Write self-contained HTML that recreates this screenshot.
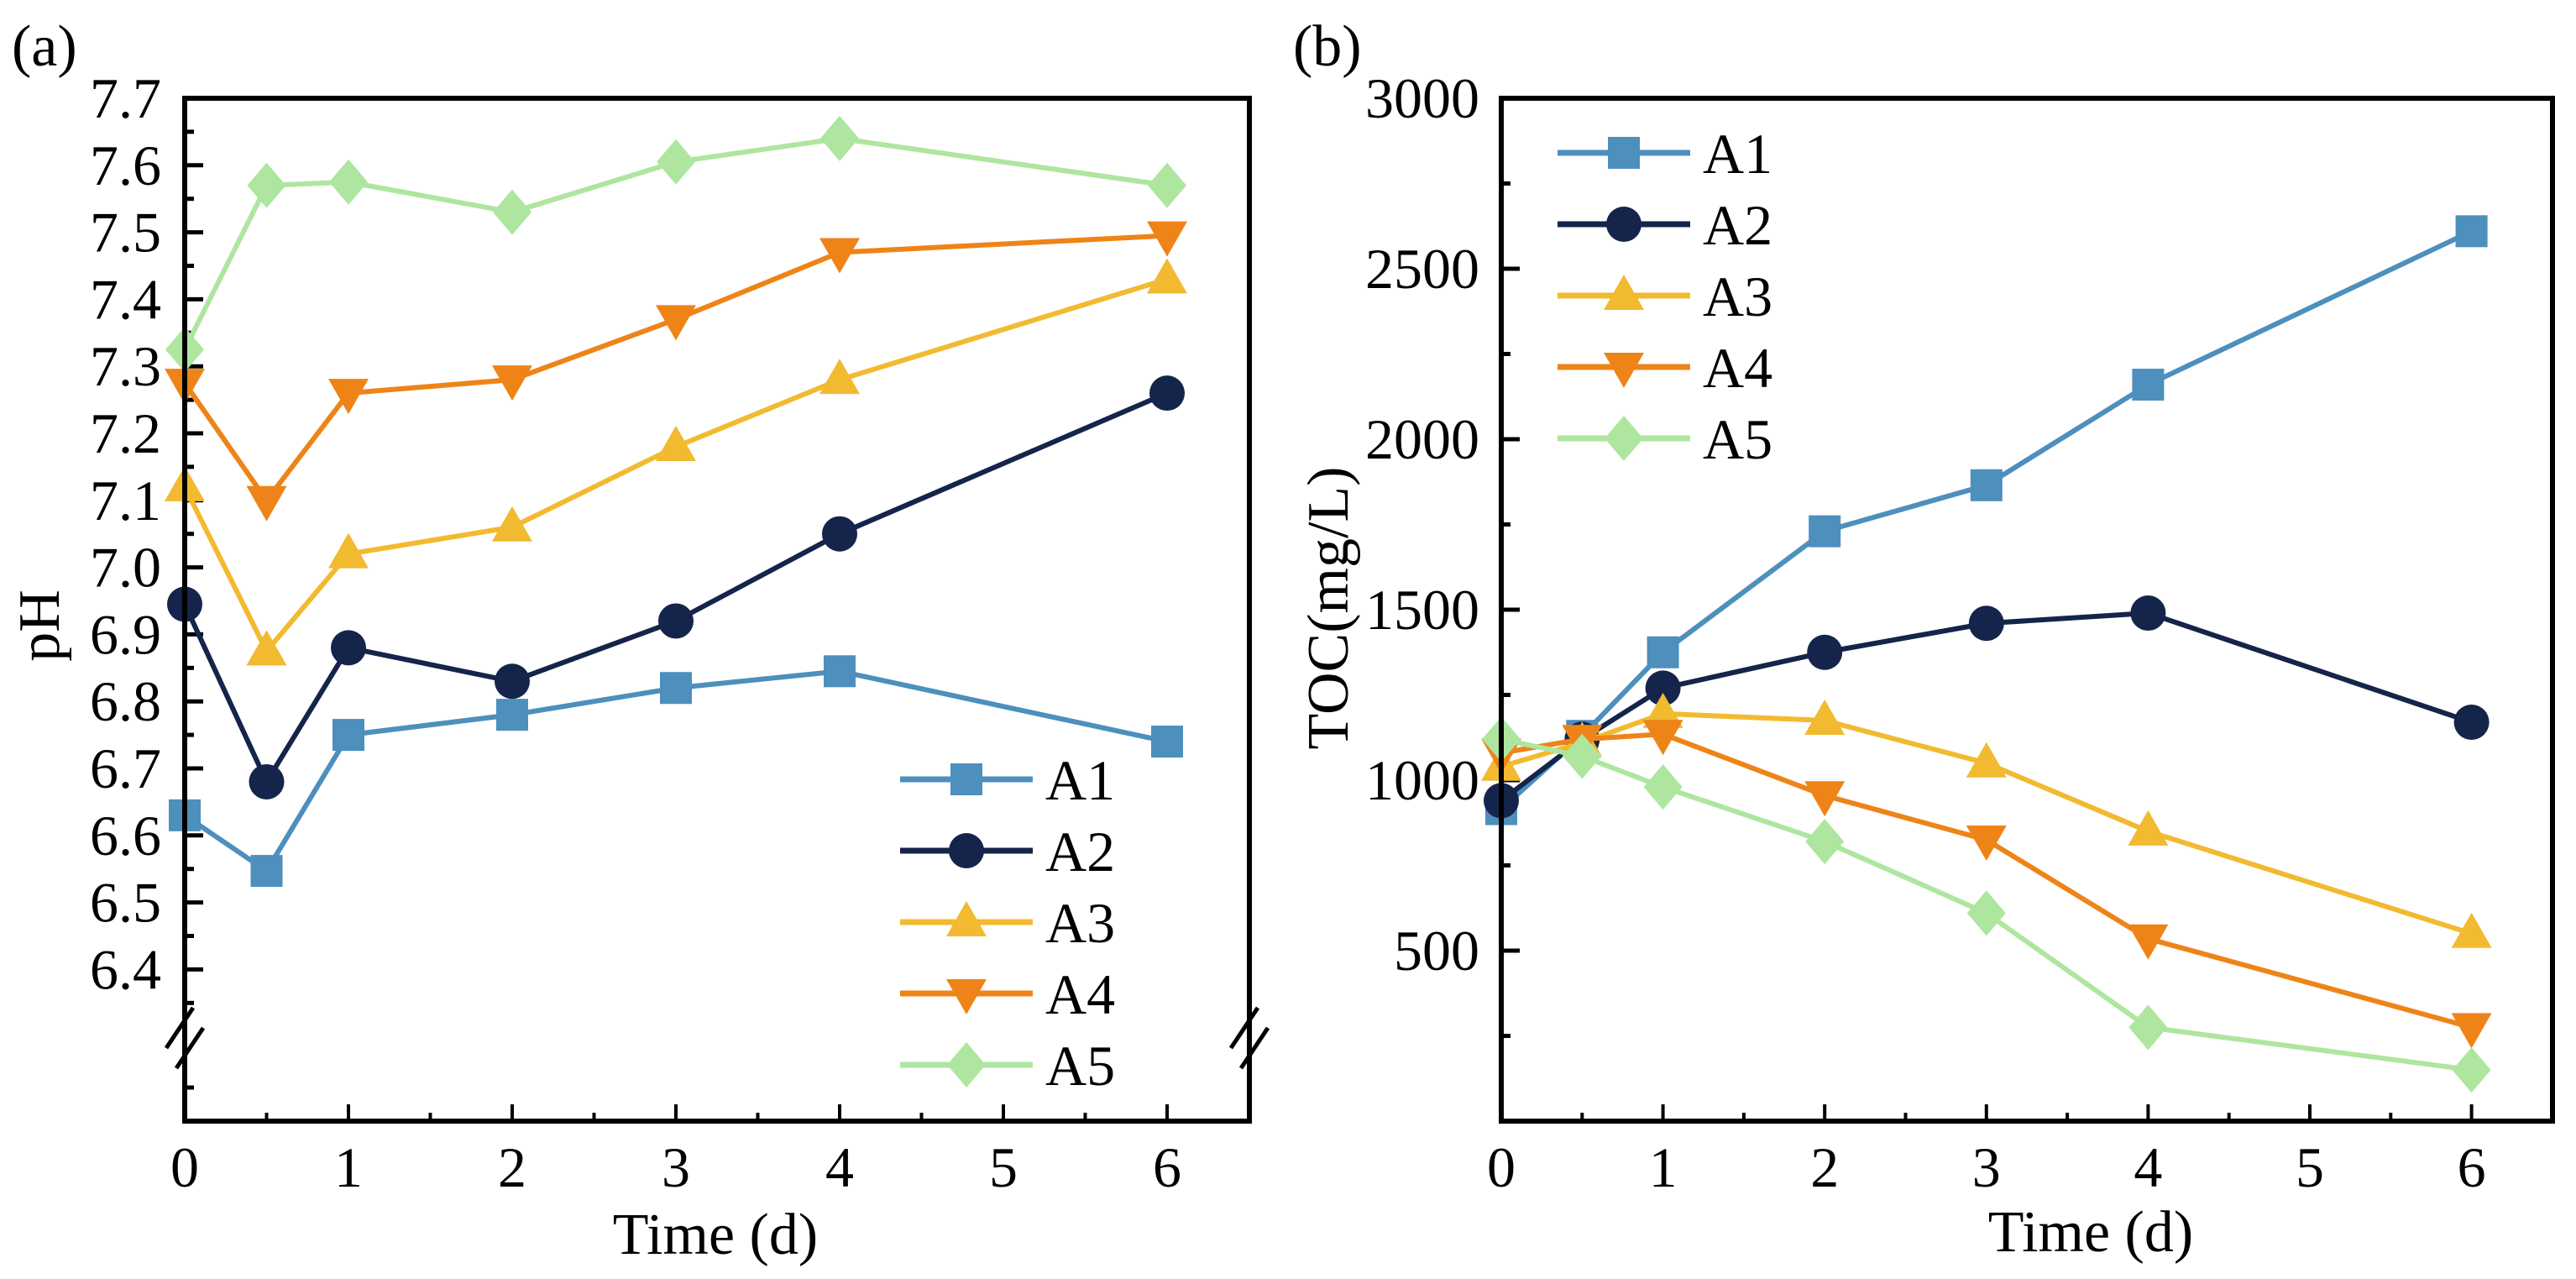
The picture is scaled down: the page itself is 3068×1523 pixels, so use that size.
<!DOCTYPE html>
<html><head><meta charset="utf-8"><style>
html,body{margin:0;padding:0;background:#fff}
svg{display:block}
text{font-family:"Liberation Serif",serif;fill:#000}
</style></head><body>
<svg id="c" width="3068" height="1523" viewBox="0 0 3068 1523" xmlns="http://www.w3.org/2000/svg"></svg>
<script>
const times = [0, 0.5, 1, 2, 3, 4, 6];
const seriesNames = ["A1", "A2", "A3", "A4", "A5"];
const pH_A1 = [6.63, 6.547, 6.75, 6.78, 6.82, 6.845, 6.74];
const pH_A2 = [6.945, 6.68, 6.88, 6.83, 6.92, 7.05, 7.26];
const pH_A3 = [7.12, 6.875, 7.02, 7.06, 7.18, 7.28, 7.43];
const pH_A4 = [7.275, 7.10, 7.26, 7.28, 7.37, 7.47, 7.495];
const pH_A5 = [7.325, 7.57, 7.575, 7.53, 7.605, 7.64, 7.57];
const toc_A1 = [915, 1130, 1375, 1730, 1865, 2160, 2610];
const toc_A2 = [940, 1120, 1270, 1375, 1460, 1490, 1170];
const toc_A3 = [1040, 1110, 1195, 1175, 1050, 850, 550];
const toc_A4 = [1080, 1120, 1135, 955, 825, 535, 275];
const toc_A5 = [1120, 1070, 980, 820, 610, 275, 150];
const xTickLabels = ["0","1","2","3","4","5","6"];
const pHTickLabels = ["6.4","6.5","6.6","6.7","6.8","6.9","7.0","7.1","7.2","7.3","7.4","7.5","7.6","7.7"];
const tocTickLabels = ["500","1000","1500","2000","2500","3000"];

const colors = ["#4D8FBD","#15244A","#F2BA30","#EE8418","#AEE6A0"];
const shapes = ["square","circle","up","down","diamond"];
const svg = document.getElementById('c');
const NS = "http://www.w3.org/2000/svg";
function mk(tag, attrs, parent){const e=document.createElementNS(NS,tag);for(const k in attrs)e.setAttribute(k,attrs[k]);(parent||svg).appendChild(e);return e;}

function marker(g, shape, cx, cy, col){
  let e;
  if(shape==="square") e=mk('rect',{x:cx-19,y:cy-19,width:38,height:38,fill:col},g);
  else if(shape==="circle") e=mk('circle',{cx:cx,cy:cy,r:21,fill:col},g);
  else if(shape==="up") e=mk('polygon',{points:`${cx},${cy-25} ${cx+24},${cy+17} ${cx-24},${cy+17}`,fill:col},g);
  else if(shape==="down") e=mk('polygon',{points:`${cx},${cy+25} ${cx+24},${cy-17} ${cx-24},${cy-17}`,fill:col},g);
  else e=mk('polygon',{points:`${cx},${cy-27} ${cx+23},${cy} ${cx},${cy+27} ${cx-23},${cy}`,fill:col},g);
  
  
  return e;
}

function panel(cfg){
  const {L,R,T,B,xs,ys,series,name}=cfg;
  const g=mk('g',{});
  
  
  // x ticks
  for(let i=0;i<=6;i++){
    const x=xs(i);
    mk('line',{x1:x,y1:B,x2:x,y2:B-20,stroke:'#000','stroke-width':4},g);
    if(i<6){const xm=xs(i+0.5);mk('line',{x1:xm,y1:B,x2:xm,y2:B-10,stroke:'#000','stroke-width':4},g);}
    const t=mk('text',{x:x,y:1413,'font-size':68,'text-anchor':'middle'},g);
    t.textContent=xTickLabels[i];
    
    
  }
  cfg.yTicks(g);
  // series
  series.forEach((vals,si)=>{
    const sg=mk('g',{},g);
    
    
    const pts=vals.map((v,i)=>`${xs(times[i])},${ys(v)}`).join(' ');
    const pl=mk('polyline',{points:pts,fill:'none',stroke:colors[si],'stroke-width':6,'stroke-linejoin':'miter'},sg);
    
    
    vals.forEach((v,i)=>marker(sg,shapes[si],xs(times[i]),ys(v),colors[si]));
  });
  // frame
  const fr=mk('rect',{x:L,y:T,width:R-L,height:B-T,fill:'none',stroke:'#000','stroke-width':6},g);
  
  
  // legend
  const lg=mk('g',{},g);
  
  
  seriesNames.forEach((n,si)=>{
    const y=cfg.legY+si*85;
    const eg=mk('g',{},lg);
    
    
    mk('line',{x1:cfg.legX,y1:y,x2:cfg.legX+158,y2:y,stroke:colors[si],'stroke-width':7},eg);
    marker(eg,shapes[si],cfg.legX+79,y,colors[si]);
    const t=mk('text',{x:cfg.legX+173,y:y+24,'font-size':68},eg);
    t.textContent=n;
  });
  return g;
}

// Panel a
const aL=220,aR=1488,aT=117,aB=1335;
const axs=t=>aL+t*195;
const ays=v=>aT+(7.7-v)*798;
panel({name:'ph-panel',L:aL,R:aR,T:aT,B:aB,xs:axs,ys:ays,series:[pH_A1,pH_A2,pH_A3,pH_A4,pH_A5],legX:1072,legY:928,
  yTicks:(g)=>{
    pHTickLabels.forEach((lab,i)=>{
      const v=parseFloat(lab);const y=ays(v);
      mk('line',{x1:aL,y1:y,x2:aL+22,y2:y,stroke:'#000','stroke-width':5},g);
      if(i<pHTickLabels.length-1){const ym=ays(v+0.05);mk('line',{x1:aL,y1:ym,x2:aL+11,y2:ym,stroke:'#000','stroke-width':5},g);}
      const t=mk('text',{x:192,y:y+23,'font-size':68,'text-anchor':'end'},g);
      t.textContent=lab;
      
      
    });
    mk('line',{x1:aL,y1:ays(6.35),x2:aL+11,y2:ays(6.35),stroke:'#000','stroke-width':5},g);
    mk('line',{x1:aL,y1:1295,x2:aL+11,y2:1295,stroke:'#000','stroke-width':5},g);
    // break marks
    [aL,aR].forEach(x=>{
      mk('rect',{x:x-6,y:1222,width:12,height:42,fill:'#fff'},g);
      mk('line',{x1:x-22,y1:1248,x2:x+10,y2:1200,stroke:'#000','stroke-width':5},g);
      mk('line',{x1:x-10,y1:1272,x2:x+22,y2:1224,stroke:'#000','stroke-width':5},g);
    });
  }});
// Panel b
const bL=1788,bR=3040,bT=117,bB=1335;
const bxs=t=>bL+t*192.6;
const bys=v=>bB-v*0.406;
panel({name:'toc-panel',L:bL,R:bR,T:bT,B:bB,xs:bxs,ys:bys,series:[toc_A1,toc_A2,toc_A3,toc_A4,toc_A5],legX:1855,legY:182,
  yTicks:(g)=>{
    tocTickLabels.forEach((lab)=>{
      const v=parseFloat(lab);const y=bys(v);
      mk('line',{x1:bL,y1:y,x2:bL+22,y2:y,stroke:'#000','stroke-width':5},g);
      const ym=bys(v-250);mk('line',{x1:bL,y1:ym,x2:bL+11,y2:ym,stroke:'#000','stroke-width':5},g);
      const t=mk('text',{x:1762,y:y+23,'font-size':68,'text-anchor':'end'},g);
      t.textContent=lab;
      
      
    });
  }});

function label(txt,x,y,name,rot){
  const t=mk('text',{x:x,y:y,'font-size':70,'text-anchor':rot!==undefined?'middle':'start'});
  if(rot!==undefined){t.setAttribute('transform',`rotate(${rot} ${x} ${y})`);}
  t.textContent=txt;
  
  
}
label('(a)',14,78,'panel-a-label');
label('(b)',1540,78,'panel-b-label');
label('pH',70,745,'y-axis-title-ph',-90);
label('TOC(mg/L)',1605,724,'y-axis-title-toc',-90);
label('Time (d)',852,1493,'x-axis-title-a',0);
label('Time (d)',2490,1490,'x-axis-title-b',0);
</script>
</body></html>
